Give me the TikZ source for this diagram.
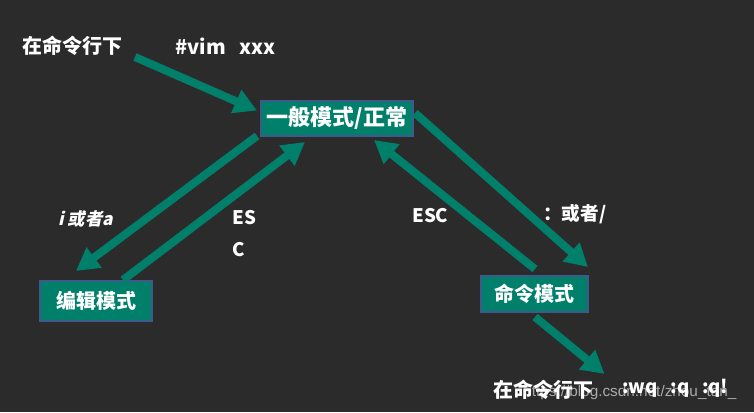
\documentclass[tikz,border=0pt]{standalone}
\usepackage{fontspec}
\setmainfont{Noto Sans CJK SC}
\newfontfamily\corsivo{Noto Sans CJK SC}[FakeSlant=0.22]
\newfontfamily\wmfont{Liberation Sans}
\usepackage{tikz}
\usetikzlibrary{arrows.meta}

\definecolor{lavagna}{HTML}{2C2B2B}
\definecolor{verde}{HTML}{00806B}
\definecolor{bordo}{HTML}{3E5A8A}

\tikzset{
  modo/.style={draw=bordo, line width=1.5pt, fill=verde, text=white, inner sep=0pt},
  freccia/.style={verde, line width=6pt, -{Triangle[length=17pt, width=18pt]}},
  scritta/.style={text=white, anchor=west, inner sep=0pt, font=\bfseries\fontsize{14}{16}\selectfont}
}

\begin{document}
\begin{tikzpicture}[x=0.75pt, y=-0.75pt]
  % lavagna
  \fill[lavagna] (0,0) rectangle (754,412);
  \useasboundingbox (0,0) rectangle (754,412);

  % modi
  \node[modo, minimum width=114pt, minimum height=26.25pt, font=\bfseries\fontsize{16.5}{20}\selectfont]
    (normale) at (337,118.5) {一般模式/正常};
  \node[modo, minimum width=84pt, minimum height=30pt, font=\bfseries\fontsize{15}{18}\selectfont]
    (modifica) at (96,301) {编辑模式};
  \node[modo, minimum width=80.25pt, minimum height=27pt, font=\bfseries\fontsize{15}{18}\selectfont]
    (comando) at (534.5,294) {命令模式};

  % scritte
  \node[scritta, font=\bfseries\fontsize{15}{18}\selectfont] (shellsu) at (22,46) {在命令行下};
  \node[scritta, font=\bfseries\fontsize{15}{18}\selectfont] (vim) at (175,46) {\#vim\ \ \ xxx};
  \node[scritta, font=\corsivo\bfseries\fontsize{13}{16}\selectfont] (ia) at (58,219) {i 或者a};
  \node[scritta] (es) at (232,218) {ES};
  \node[scritta] (c) at (232,250) {C};
  \node[scritta] (esc) at (412,216) {ESC};
  \node[scritta] (duepunti) at (543,214) {：或者/};
  \node[scritta, font=\bfseries\fontsize{15}{18}\selectfont] (shellgiu) at (493,390) {在命令行下};
  \node[scritta] (wq) at (622,388) {:wq\ \ \ :q\ \ \ :q!};

  % frecce
  \coordinate (inizio) at (135,57);
  \draw[freccia] (inizio) -- ([shift={(-3,-8)}]normale.west);
  \draw[freccia] ([shift={(-3,-1)}]normale.south west) -- ([shift={(37,-9)}]modifica.north west);
  \draw[freccia] ([shift={(27,0)}]modifica.north) -- ([shift={(-32,5)}]normale.south);
  \draw[freccia] ([shift={(0.5,-6)}]comando.north) -- ([shift={(-40,3)}]normale.south east);
  \draw[freccia] ([shift={(1,-5.5)}]normale.east) -- ([shift={(-1,-8)}]comando.north east);
  \draw[freccia] ([shift={(0.5,4)}]comando.south) -- ([shift={(11,-6)}]shellgiu.north east);

  % filigrana
  \node[text=white, opacity=0.6, anchor=west, inner sep=0pt, font=\wmfont\fontsize{11.5}{13}\selectfont]
    (filigrana) at (523,393) {https://blog.csdn.net/zhou\_tan\_};
\end{tikzpicture}
\end{document}
